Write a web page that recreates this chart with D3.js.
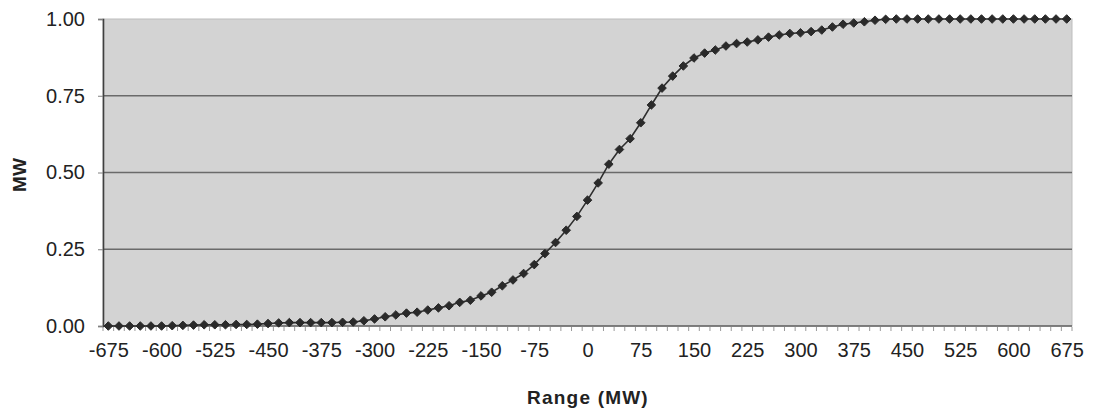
<!DOCTYPE html>
<html>
<head>
<meta charset="utf-8">
<script src="https://cdn.jsdelivr.net/npm/d3@7/dist/d3.min.js"></script>
<style>
  html, body { margin: 0; padding: 0; background: #ffffff; }
  svg { display: block; font-family: Arial, "Liberation Sans", sans-serif; }
</style>
</head>
<body>
<svg id="chart" width="1095" height="414"></svg>
<script>
// Range steps in MW (every 15 MW from -675 to 675)
const rangeMW = [
  -675,-660,-645,-630,-615,-600,-585,-570,-555,-540,-525,-510,-495,-480,-465,
  -450,-435,-420,-405,-390,-375,-360,-345,-330,-315,-300,-285,-270,-255,-240,
  -225,-210,-195,-180,-165,-150,-135,-120,-105,-90,-75,-60,-45,-30,-15,
  0,15,30,45,60,75,90,105,120,135,150,165,180,195,210,
  225,240,255,270,285,300,315,330,345,360,375,390,405,420,435,
  450,465,480,495,510,525,540,555,570,585,600,615,630,645,660,675
];

// Cumulative value at each range step
const cumulative = [
  0.000,0.000,0.000,0.000,0.000,0.000,0.001,0.002,0.003,0.004,0.004,0.004,0.005,0.005,0.006,
  0.008,0.010,0.011,0.011,0.011,0.011,0.011,0.012,0.013,0.017,0.023,0.030,0.036,0.042,0.045,
  0.052,0.059,0.066,0.077,0.084,0.098,0.110,0.131,0.150,0.171,0.200,0.236,0.272,0.312,0.357,
  0.410,0.466,0.527,0.575,0.610,0.662,0.720,0.775,0.814,0.847,0.873,0.889,0.899,0.912,0.920,
  0.925,0.932,0.941,0.948,0.953,0.955,0.959,0.964,0.974,0.983,0.987,0.991,0.996,0.999,1.000,
  1.000,1.000,1.000,1.000,1.000,1.000,1.000,1.000,1.000,1.000,1.000,1.000,1.000,1.000,1.000,1.000
];

// Labelled category ticks and value ticks
const xTickLabels = [-675,-600,-525,-450,-375,-300,-225,-150,-75,0,75,150,225,300,375,450,525,600,675];
const yTicks = [0, 0.25, 0.5, 0.75, 1.0];

const plot = { left: 103, right: 1072, top: 19, bottom: 326 };

const svg = d3.select("#chart");

const x = d3.scalePoint()
  .domain(rangeMW)
  .range([plot.left, plot.right])
  .padding(0.5);

const y = d3.scaleLinear()
  .domain([0, 1])
  .range([plot.bottom, plot.top]);

// Plot area background
svg.append("rect")
  .attr("x", plot.left)
  .attr("y", plot.top)
  .attr("width", plot.right - plot.left)
  .attr("height", plot.bottom - plot.top)
  .attr("fill", "#d3d3d3")
  .attr("stroke", "#bdbdbd")
  .attr("stroke-width", 1);

// Horizontal gridlines
svg.append("g")
  .selectAll("line")
  .data(yTicks.filter(d => d > 0 && d < 1))
  .join("line")
  .attr("x1", plot.left)
  .attr("x2", plot.right)
  .attr("y1", d => y(d))
  .attr("y2", d => y(d))
  .attr("stroke", "#6a6a6a")
  .attr("stroke-width", 1.4);

// Category boundary ticks below the x axis
const step = x.step();
const boundaries = d3.range(rangeMW.length + 1).map(i => plot.left + i * step);
svg.append("g")
  .selectAll("line")
  .data(boundaries)
  .join("line")
  .attr("x1", d => d)
  .attr("x2", d => d)
  .attr("y1", plot.bottom + 1)
  .attr("y2", plot.bottom + 5)
  .attr("stroke", "#9a9a9a")
  .attr("stroke-width", 1);

// X axis line
svg.append("line")
  .attr("x1", plot.left)
  .attr("x2", plot.right)
  .attr("y1", plot.bottom)
  .attr("y2", plot.bottom)
  .attr("stroke", "#606060")
  .attr("stroke-width", 1.4);

// X axis labels
const xAxis = d3.axisBottom(x)
  .tickValues(xTickLabels)
  .tickSize(0)
  .tickPadding(0);
const gx = svg.append("g")
  .attr("transform", `translate(0,${plot.bottom + 24})`)
  .call(xAxis);
gx.select(".domain").remove();
gx.selectAll("text")
  .attr("font-size", 20)
  .attr("font-family", "Arial, 'Liberation Sans', sans-serif")
  .attr("fill", "#222")
  .attr("dy", "0.71em")
  .attr("y", -7);

// Y axis
const yAxis = d3.axisLeft(y)
  .tickValues(yTicks)
  .tickFormat(d3.format(".2f"))
  .tickSize(5)
  .tickPadding(13);
const gy = svg.append("g")
  .attr("transform", `translate(${plot.left},0)`)
  .call(yAxis);
gy.select(".domain")
  .attr("stroke", "#404040")
  .attr("stroke-width", 1.6);
gy.selectAll(".tick line").attr("stroke", "#808080");
gy.selectAll("text")
  .attr("font-size", 20)
  .attr("font-family", "Arial, 'Liberation Sans', sans-serif")
  .attr("fill", "#222");

// Connecting line
const line = d3.line()
  .x((d, i) => x(rangeMW[i]))
  .y(d => y(d));
svg.append("path")
  .datum(cumulative)
  .attr("d", line)
  .attr("fill", "none")
  .attr("stroke", "#2e2e2e")
  .attr("stroke-width", 1.6);

// Diamond markers (equal width and height)
const r = 4.3;
const diamondPath = `M0,${-r}L${r},0L0,${r}L${-r},0Z`;
svg.append("g")
  .selectAll("path")
  .data(cumulative)
  .join("path")
  .attr("transform", (d, i) => `translate(${x(rangeMW[i])},${y(d)})`)
  .attr("d", diamondPath)
  .attr("fill", "#2a2a2a")
  .attr("stroke", "#2a2a2a")
  .attr("stroke-width", 1)
  .attr("stroke-linejoin", "round");

// Axis titles
svg.append("text")
  .attr("x", (plot.left + plot.right) / 2 + 0.5)
  .attr("y", 404)
  .attr("text-anchor", "middle")
  .attr("font-size", 19)
  .attr("font-weight", "bold")
  .attr("letter-spacing", 1.2)
  .attr("fill", "#222")
  .text("Range (MW)");

svg.append("text")
  .attr("transform", "translate(26,175) rotate(-90)")
  .attr("text-anchor", "middle")
  .attr("font-size", 19)
  .attr("font-weight", "bold")
  .attr("fill", "#222")
  .text("MW");
</script>
</body>
</html>
